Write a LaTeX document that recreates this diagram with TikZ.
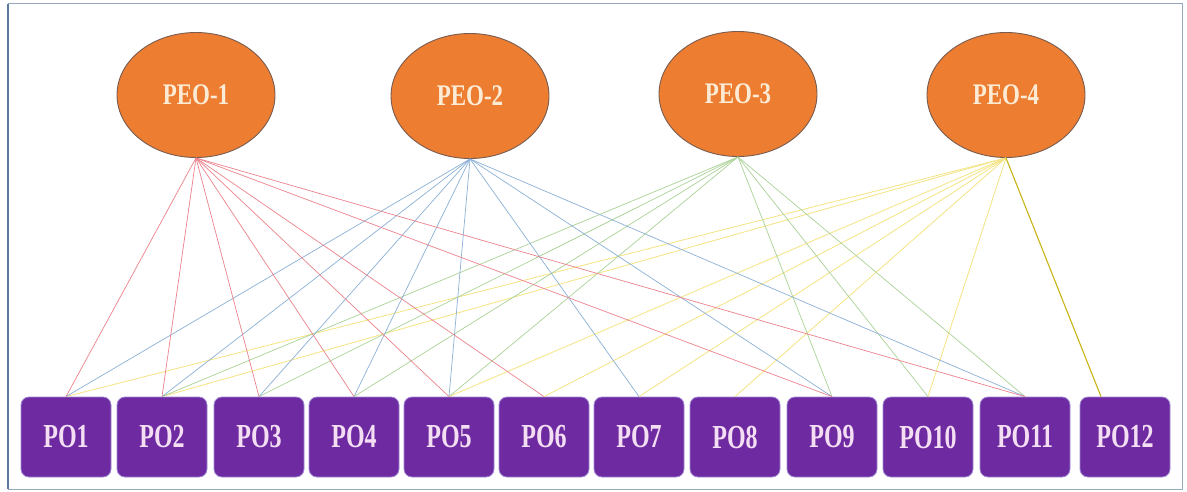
\documentclass[tikz,border=0pt]{standalone}
\usepackage{fontspec}
\setmainfont{Liberation Serif}
\usetikzlibrary{shapes.geometric}
\definecolor{peofill}{RGB}{237,125,49}
\definecolor{peoedge}{RGB}{120,92,80}
\definecolor{peotext}{RGB}{252,236,214}
\definecolor{pofill}{RGB}{110,42,160}
\definecolor{poedge}{RGB}{160,135,210}
\definecolor{potext}{RGB}{244,222,244}
\definecolor{lred}{RGB}{236,130,140}
\definecolor{lblue}{RGB}{140,176,214}
\definecolor{lgreen}{RGB}{170,210,150}
\definecolor{lyellow}{RGB}{244,228,130}
\definecolor{lolive}{RGB}{200,180,20}
\definecolor{framec}{RGB}{150,168,192}
\definecolor{frameleft}{RGB}{90,120,160}
\tikzset{
  peo/.style={ellipse,draw=peoedge,line width=0.9pt,fill=peofill,minimum width=158pt,minimum height=125pt,inner sep=0pt,text=peotext,font=\fontsize{23}{23}\selectfont\bfseries},
  pobox/.style={rectangle,rounded corners=8pt,draw=poedge,line width=0.8pt,fill=pofill,minimum width=90pt,minimum height=80pt,inner sep=0pt,text=potext,font=\fontsize{24}{24}\selectfont\bfseries},
  lr/.style={draw=lred,line width=0.7pt},
  lb/.style={draw=lblue,line width=0.7pt},
  lg/.style={draw=lgreen,line width=0.7pt},
  ly/.style={draw=lyellow,line width=0.8pt},
  lo/.style={draw=lolive,line width=1.1pt}
}
\newcommand{\tallt}[2]{\scalebox{1}[#1]{#2}}
\begin{document}
\begin{tikzpicture}[x=1pt,y=-1pt]
\useasboundingbox (0,0) rectangle (1187,492);
\fill[white] (0,0) rectangle (1187,492);
\draw[framec,line width=1pt] (8,4) -- (1182,4) -- (1182,489) -- (8,489);
\draw[frameleft,line width=2pt] (8,4) -- (8,489);
% PEO nodes
\node[peo] (peo1) at (196,95) {\tallt{1.3}{PEO-1}};
\node[peo] (peo2) at (470,96) {\tallt{1.3}{PEO-2}};
\node[peo] (peo3) at (738,94) {\tallt{1.3}{PEO-3}};
\node[peo] (peo4) at (1006,95) {\tallt{1.3}{PEO-4}};
% PO nodes
\node[pobox] (po1) at (66,437) {\tallt{1.4}{PO1}};
\node[pobox] (po2) at (162,437) {\tallt{1.4}{PO2}};
\node[pobox] (po3) at (259,437) {\tallt{1.4}{PO3}};
\node[pobox] (po4) at (354,437) {\tallt{1.4}{PO4}};
\node[pobox] (po5) at (449,437) {\tallt{1.4}{PO5}};
\node[pobox] (po6) at (544,437) {\tallt{1.4}{PO6}};
\node[pobox] (po7) at (639,437) {\tallt{1.4}{PO7}};
\node[pobox] (po8) at (735,437) {\tallt{1.4}{PO8}};
\node[pobox] (po9) at (832,437) {\tallt{1.4}{PO9}};
\node[pobox] (po10) at (928,437) {\tallt{1.4}{PO10}};
\node[pobox] (po11) at (1025,437) {\tallt{1.4}{PO11}};
\node[pobox] (po12) at (1125,437) {\tallt{1.4}{PO12}};
% PEO-4 links (yellow)
\foreach \p in {po1,po2,po5,po6,po7,po8,po10}
  \draw[ly] (peo4.south) -- (\p.north);
\draw[lo] (peo4.south) -- ([xshift=-24pt]po12.north);
% PEO-3 links (green)
\foreach \p in {po2,po3,po4,po5,po9,po10,po11}
  \draw[lg] (peo3.south) -- (\p.north);
% PEO-2 links (blue)
\foreach \p in {po1,po2,po3,po4,po5,po7,po9,po11}
  \draw[lb] (peo2.south) -- (\p.north);
% PEO-1 links (red)
\foreach \p in {po1,po2,po3,po4,po5,po6,po9,po11}
  \draw[lr] (peo1.south) -- (\p.north);
\end{tikzpicture}
\end{document}
